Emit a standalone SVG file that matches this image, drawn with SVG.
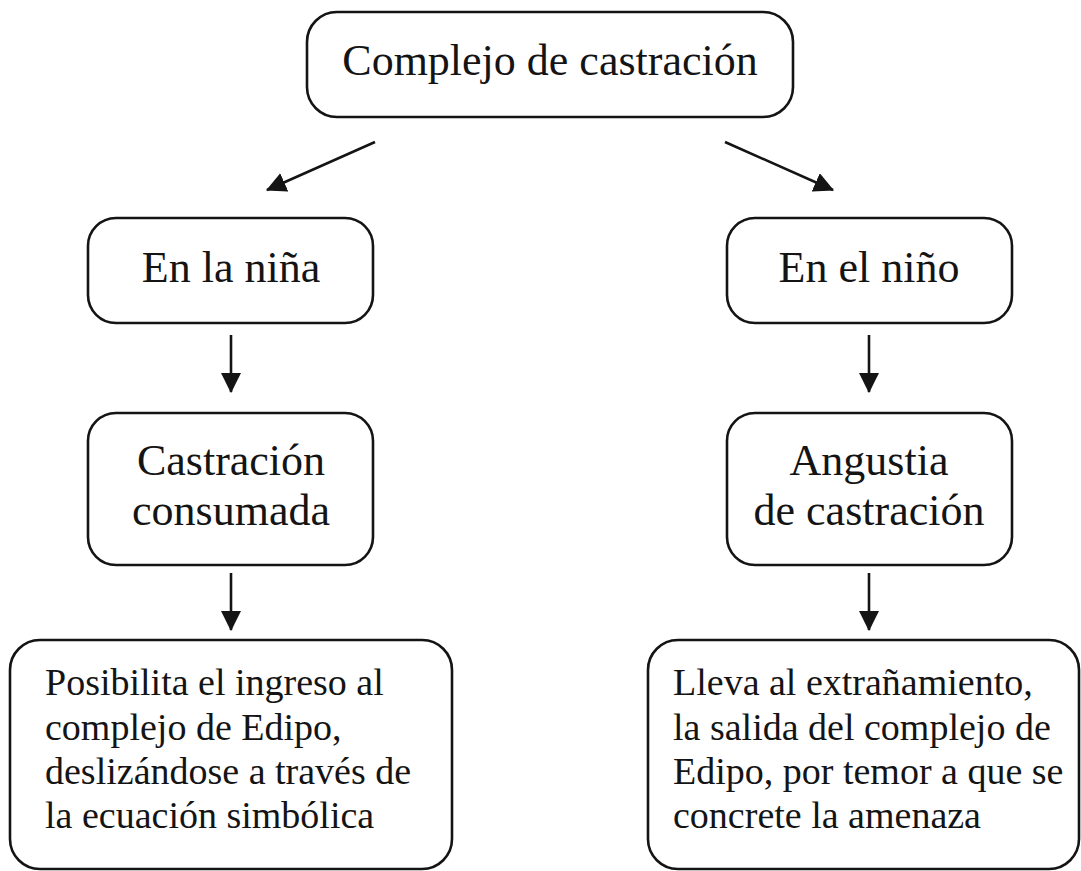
<svg xmlns="http://www.w3.org/2000/svg" width="1081" height="871" viewBox="0 0 1081 871">
<style>
.box{fill:#fff;stroke:#141414;stroke-width:2.6}
.t{font-family:"Liberation Serif","Times New Roman",serif;font-size:44px;fill:#141414;text-anchor:middle}
.b{font-family:"Liberation Serif","Times New Roman",serif;font-size:38px;fill:#141414}
.c{stroke:#141414;stroke-width:2.6;fill:none;marker-end:url(#ah)}
</style>
<defs>
<marker id="ah" markerUnits="userSpaceOnUse" markerWidth="20" markerHeight="20" viewBox="0 0 18 18" refX="17" refY="9" orient="auto">
<path d="M0,0 L18,9 L0,18 Z" fill="#141414"/>
</marker>
</defs>
<rect width="1081" height="871" fill="#fff"/>
<g id="n-top">
<rect class="box" x="307" y="12" width="486" height="105" rx="30"/>
<text class="t" x="550" y="75">Complejo de castración</text>
</g>
<g id="n-nina">
<rect class="box" x="88" y="218" width="285" height="105" rx="28"/>
<text class="t" x="231" y="282">En la niña</text>
</g>
<g id="n-nino">
<rect class="box" x="727" y="218" width="285" height="105" rx="28"/>
<text class="t" x="869" y="282">En el niño</text>
</g>
<g id="n-consumada">
<rect class="box" x="88" y="413" width="285" height="152" rx="28"/>
<text class="t" x="231" y="475">Castración</text>
<text class="t" x="231" y="525">consumada</text>
</g>
<g id="n-angustia">
<rect class="box" x="727" y="413" width="285" height="152" rx="28"/>
<text class="t" x="869" y="475">Angustia</text>
<text class="t" x="869" y="525">de castración</text>
</g>
<g id="n-posibilita">
<rect class="box" x="10" y="640" width="442" height="229" rx="30"/>
<text class="b" x="45" y="695">Posibilita el ingreso al</text>
<text class="b" x="45" y="740">complejo de Edipo,</text>
<text class="b" x="45" y="784">deslizándose a través de</text>
<text class="b" x="45" y="828">la ecuación simbólica</text>
</g>
<g id="n-lleva">
<rect class="box" x="648" y="640" width="431" height="229" rx="30"/>
<text class="b" x="673" y="695">Lleva al extrañamiento,</text>
<text class="b" x="673" y="740">la salida del complejo de</text>
<text class="b" x="673" y="784">Edipo, por temor a que se</text>
<text class="b" x="673" y="828">concrete la amenaza</text>
</g>
<g id="connectors">
<line class="c" x1="375" y1="142" x2="267" y2="190"/>
<line class="c" x1="725" y1="142" x2="833" y2="190"/>
<line class="c" x1="231" y1="335" x2="231" y2="392"/>
<line class="c" x1="869" y1="335" x2="869" y2="392"/>
<line class="c" x1="231" y1="573" x2="231" y2="630"/>
<line class="c" x1="869" y1="573" x2="869" y2="630"/>
</g>
</svg>
